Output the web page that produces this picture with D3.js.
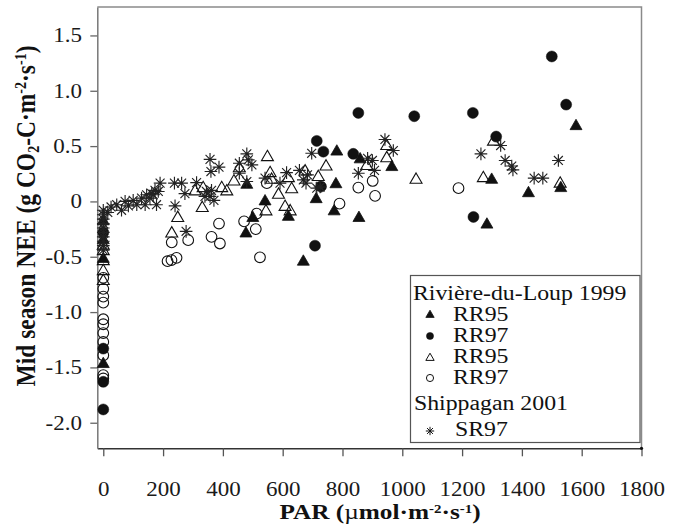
<!DOCTYPE html>
<html>
<head>
<meta charset="utf-8">
<script src="https://cdn.jsdelivr.net/npm/d3@7"></script>
<style>
  body { margin: 0; background: #fff; }
  svg { display: block; font-family: "Liberation Serif", "Times New Roman", serif; }
</style>
</head>
<body>
<svg id="chart"></svg>
<script>
// ---- data: [PAR, NEE] ----
const rr95Filled = [
  [0, -0.18], [0, -0.35], [0, -0.52], [0, -1.47],
  [480, 0.15], [477, -0.29], [500, -0.15], [541, 0.0], [619, -0.14], [669, -0.545],
  [712, 0.02], [772, -0.09], [778, 0.155], [781, 0.45], [859, 0.38], [855, -0.15],
  [965, 0.31], [1283, -0.21], [1299, 0.195], [1422, 0.074], [1530, 0.12], [1581, 0.68]
];
const rr97Filled = [
  [0, -1.88], [0, -1.63], [0, -1.33], [0, -0.28],
  [708, -0.40], [714, 0.547], [736, 0.45], [728, 0.135], [836, 0.43], [853, 0.80],
  [1040, 0.77], [1238, -0.14], [1236, 0.80], [1314, 0.586], [1500, 1.31], [1548, 0.875]
];
const rr95Open = [
  [0, -0.40], [0, -0.45], [0, -0.54], [0, -0.63], [0, -0.72],
  [229, -0.29], [249, -0.15], [307, 0.09], [331, -0.06], [334, 0.12],
  [396, 0.12], [413, 0.09], [437, 0.18], [455, 0.30], [549, 0.40], [558, 0.255],
  [563, 0.195], [544, -0.09], [586, 0.06], [608, -0.05], [625, -0.09], [630, 0.11],
  [619, 0.21], [675, 0.27], [719, 0.22], [745, 0.315], [881, 0.32], [948, 0.50],
  [948, 0.39], [1046, 0.195], [1271, 0.21], [1305, 0.54], [1528, 0.16]
];
const rr97Open = [
  [0, -0.69], [0, -0.79], [0, -0.86], [0, -0.915], [0, -1.065], [0, -1.11],
  [0, -1.19], [0, -1.27], [0, -1.39], [0, -1.57], [0, -1.60],
  [215, -0.54], [228, -0.53], [245, -0.51], [229, -0.37], [284, -0.35], [362, -0.32],
  [387, -0.20], [390, -0.38], [471, -0.18], [510, -0.25], [513, -0.11], [524, -0.505],
  [547, 0.165], [790, -0.02], [853, 0.125], [901, 0.185], [909, 0.05], [1188, 0.12]
];
const sr97 = [
  [0, -0.08], [0, -0.12], [0, -0.16], [0, -0.20], [0, -0.24], [0, -0.28], [0, -0.32],
  [0, -0.36], [0, -0.40], [0, -0.44], [15, -0.10],
  [26, -0.05], [45, -0.03], [61, -0.08], [73, 0.0], [84, -0.04], [100, 0.01], [112, -0.03],
  [128, 0.03], [140, -0.03], [145, 0.06], [156, 0.03], [162, 0.07], [167, 0.06],
  [173, 0.10], [178, -0.03], [184, 0.09], [190, 0.165], [238, 0.165], [240, -0.04],
  [262, 0.165], [273, 0.07], [277, -0.27], [312, 0.17],
  [340, 0.045], [345, 0.09], [357, 0.045], [362, 0.10], [370, 0.01],
  [357, 0.38], [360, 0.27], [387, 0.31],
  [455, 0.345], [455, 0.255], [480, 0.43], [485, 0.375], [497, 0.33], [480, 0.18],
  [541, 0.21], [591, 0.165], [613, 0.26], [656, 0.28], [669, 0.195], [678, 0.165],
  [683, 0.24], [697, 0.435], [714, 0.12], [725, 0.13], [853, 0.255], [884, 0.39],
  [900, 0.37], [907, 0.28], [942, 0.56], [970, 0.46], [1263, 0.43], [1329, 0.505],
  [1344, 0.37], [1366, 0.32], [1370, 0.285], [1441, 0.21], [1470, 0.21], [1522, 0.37]
];

const parTicks = [0, 200, 400, 600, 800, 1000, 1200, 1400, 1600, 1800];
const neeTicks = [-2.0, -1.5, -1.0, -0.5, 0, 0.5, 1.0, 1.5];
const neeTickLabels = ["-2.0", "-1.5", "-1.0", "-0.5", "0", "0.5", "1.0", "1.5"];

const legendTitle1 = "Rivière-du-Loup 1999";
const legendTitle2 = "Shippagan 2001";

// ---- layout ----
const W = 673, H = 525;
const margin = { top: 7, right: 31.5, bottom: 76.7, left: 97.3 };
const width = W - margin.left - margin.right;
const height = H - margin.top - margin.bottom;
const stretch = 1.15;   // the printed type is wider than Liberation Serif

const svg = d3.select("#chart").attr("width", W).attr("height", H);
const chart = svg.append("g").attr("transform", `translate(${margin.left},${margin.top})`);

const x = d3.scaleLinear().domain([-20, 1800]).range([0, width]);
const y = d3.scaleLinear().domain([-2.231, 1.757]).range([height, 0]);

// frame: top and right borders
chart.append("path")
  .attr("d", `M0,0H${width}V${height}`)
  .attr("fill", "none").attr("stroke", "#8a8a8a").attr("stroke-width", 1.5);

// axes
const xAxis = d3.axisBottom(x).tickValues(parTicks).tickSize(8).tickPadding(26).tickSizeOuter(0)
  .tickFormat(d3.format("d"));
const yAxis = d3.axisLeft(y).tickValues(neeTicks).tickSize(7).tickPadding(8).tickSizeOuter(0)
  .tickFormat((d, i) => neeTickLabels[i]);

const xAxisG = chart.append("g").attr("transform", `translate(0,${height})`).call(xAxis);
const yAxisG = chart.append("g").call(yAxis);

xAxisG.select(".domain").attr("stroke", "#333").attr("stroke-width", 1.5);
yAxisG.select(".domain").attr("stroke", "#777").attr("stroke-width", 1.5);
xAxisG.selectAll(".tick line").attr("stroke", "#555").attr("stroke-width", 1.3);
yAxisG.selectAll(".tick line").attr("stroke", "#666").attr("stroke-width", 1.3);
[xAxisG, yAxisG].forEach(g => g.selectAll("text")
  .attr("fill", "#1a1a1a").style("font-size", "20px")
  .style("font-family", '"Liberation Serif", "Times New Roman", serif')
  .attr("transform", `scale(${stretch},1)`));
yAxisG.selectAll("text").attr("x", -15.3 / stretch);

// little corner dot
chart.append("circle").attr("cx", width).attr("cy", height).attr("r", 1.6).attr("fill", "#111");

// ---- symbols ----
const starType = {
  draw(ctx, size) {
    const r = Math.sqrt(size) / 2, d = r * Math.SQRT1_2;
    ctx.moveTo(-r, 0); ctx.lineTo(r, 0);
    ctx.moveTo(0, -r); ctx.lineTo(0, r);
    ctx.moveTo(-d, -d); ctx.lineTo(d, d);
    ctx.moveTo(-d, d); ctx.lineTo(d, -d);
  }
};

const series = [
  { data: rr97Open, type: d3.symbolCircle, size: 90, fill: "none", stroke: "#111", sw: 1.1 },
  { data: rr95Open, type: d3.symbolTriangle, size: 62, fill: "none", stroke: "#111", sw: 1.1 },
  { data: rr95Filled, type: d3.symbolTriangle, size: 62, fill: "#111", stroke: "#111", sw: 0.8 },
  { data: rr97Filled, type: d3.symbolCircle, size: 95, fill: "#111", stroke: "#111", sw: 0.5 },
  { data: sr97, type: starType, size: 160, fill: "none", stroke: "#222", sw: 1.15 }
];

series.forEach(s => {
  chart.append("g").selectAll("path")
    .data(s.data)
    .join("path")
      .attr("transform", d => `translate(${x(d[0])},${y(d[1])})`)
      .attr("d", d3.symbol().type(s.type).size(s.size))
      .attr("fill", s.fill)
      .attr("stroke", s.stroke)
      .attr("stroke-width", s.sw);
});

// ---- legend ----
const legend = svg.append("g");
legend.append("rect")
  .attr("x", 410.5).attr("y", 275.5).attr("width", 229.5).attr("height", 167)
  .attr("fill", "#fff").attr("stroke", "#555").attr("stroke-width", 1.2);

const lgFont = "20px";
const lgText = (tx, ty, str) => legend.append("text")
  .attr("transform", `translate(${tx},${ty}) scale(${stretch + 0.04},1)`)
  .style("font-size", lgFont).attr("fill", "#111").text(str);

lgText(413, 300, legendTitle1);
lgText(414, 410, legendTitle2);

const legendRows = [
  { label: "RR95", type: d3.symbolTriangle, size: 30, fill: "#111", sw: 0.8, ty: 321, sy: 315 },
  { label: "RR97", type: d3.symbolCircle, size: 40, fill: "#111", sw: 0.5, ty: 342, sy: 336 },
  { label: "RR95", type: d3.symbolTriangle, size: 30, fill: "none", sw: 1, ty: 363, sy: 358 },
  { label: "RR97", type: d3.symbolCircle, size: 40, fill: "none", sw: 1, ty: 384, sy: 378 },
  { label: "SR97", type: starType, size: 70, fill: "none", sw: 1, ty: 436, sy: 431 }
];
legendRows.forEach(r => {
  legend.append("path")
    .attr("transform", `translate(430,${r.sy})`)
    .attr("d", d3.symbol().type(r.type).size(r.size)())
    .attr("fill", r.fill).attr("stroke", "#111").attr("stroke-width", r.sw);
  lgText(r.label === "SR97" ? 455 : 453, r.ty, r.label);
});

// ---- axis titles ----
const yTitle = svg.append("text")
  .attr("transform", `translate(35,216) rotate(-90) scale(1,${stretch})`)
  .attr("text-anchor", "middle")
  .style("font-size", "23.5px").style("font-weight", "bold").attr("fill", "#111");
yTitle.append("tspan").text("Mid season NEE (g CO");
yTitle.append("tspan").attr("baseline-shift", "-25%").style("font-size", "14px").text("2");
yTitle.append("tspan").text("-C·m");
yTitle.append("tspan").attr("baseline-shift", "super").style("font-size", "14px").text("-2");
yTitle.append("tspan").text("·s");
yTitle.append("tspan").attr("baseline-shift", "super").style("font-size", "14px").text("-1");
yTitle.append("tspan").text(")");

const xTitle = svg.append("text")
  .attr("transform", `translate(380,519) scale(${stretch},1)`)
  .attr("text-anchor", "middle")
  .style("font-size", "22px").style("font-weight", "bold").attr("fill", "#111");
xTitle.append("tspan").text("PAR (");
xTitle.append("tspan").style("font-weight", "normal").text("µ");
xTitle.append("tspan").text("mol·m");
xTitle.append("tspan").attr("baseline-shift", "super").style("font-size", "13px").text("-2");
xTitle.append("tspan").text("·s");
xTitle.append("tspan").attr("baseline-shift", "super").style("font-size", "13px").text("-1");
xTitle.append("tspan").text(")");
</script>
</body>
</html>
